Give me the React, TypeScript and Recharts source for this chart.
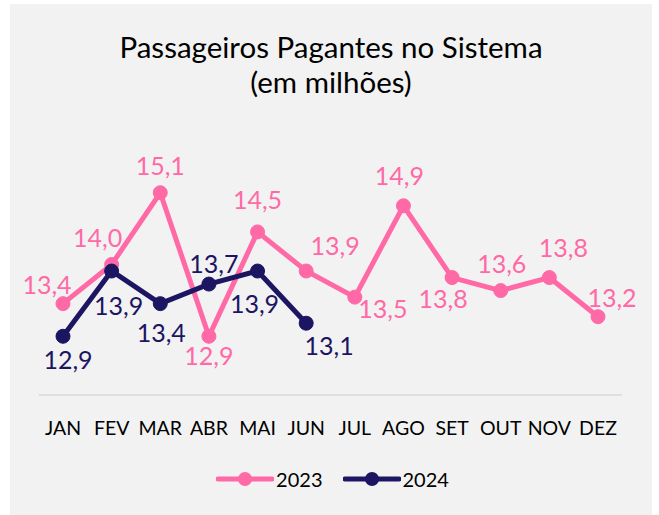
import React from 'react'
import { LineChart, Line, XAxis, YAxis, Legend, LabelList } from 'recharts'

const months = ['JAN', 'FEV', 'MAR', 'ABR', 'MAI', 'JUN', 'JUL', 'AGO', 'SET', 'OUT', 'NOV', 'DEZ']
const values2023 = [13.4, 14.0, 15.1, 12.9, 14.5, 13.9, 13.5, 14.9, 13.8, 13.6, 13.8, 13.2]
const values2024 = [12.9, 13.9, 13.4, 13.7, 13.9, 13.1]

// label offsets (dx, dy) from each point, the way Excel placed them
const offsets2023 = [
  [-16, -20], [-14, -28], [0, -28], [0, 19], [0, -33], [29, -26],
  [28, 11], [-4, -31], [-9, 20], [1, -28], [14, -31], [14, -20],
]
const offsets2024 = [[5, 23], [7, 34], [1, 28], [5, -21], [-3, 32], [23, 22]]

const PINK = '#ff69a6'
const NAVY = '#1c1562'
const FONT = 'Lato, sans-serif'

const data = months.map((m, i) => ({
  month: m,
  y2023: values2023[i],
  y2024: i < values2024.length ? values2024[i] : null,
}))

const fmt = (v: number) => v.toFixed(1).replace('.', ',')

function makeLabel(color: string, offsets: number[][]) {
  return (props: any) => {
    const { x, y, value, index } = props
    if (value == null) return null
    const [dx, dy] = offsets[index] || [0, -20]
    return (
      <text
        x={x + dx}
        y={y + dy}
        fill={color}
        fontSize={25}
        fontFamily={FONT}
        textAnchor="middle"
        dominantBaseline="central"
      >
        {fmt(value)}
      </text>
    )
  }
}

function LegendContent() {
  const items = [
    { name: '2023', color: PINK },
    { name: '2024', color: NAVY },
  ]
  return (
    <div style={{ display: 'flex', justifyContent: 'center', gap: 20, fontFamily: FONT, fontSize: 20, marginLeft: 4 }}>
      {items.map((it) => (
        <div key={it.name} style={{ display: 'flex', alignItems: 'center' }}>
          <svg width={58} height={20}>
            <line x1={2} y1={10} x2={56} y2={10} stroke={it.color} strokeWidth={5} strokeLinecap="round" />
            <circle cx={29} cy={10} r={7} fill={it.color} />
          </svg>
          <span style={{ color: '#000', marginLeft: 2 }}>{it.name}</span>
        </div>
      ))}
    </div>
  )
}

export default function App() {
  return (
    <div style={{ position: 'absolute', left: 0, top: 0, width: 659, height: 515, background: '#fff' }}>
      <div
        style={{
          position: 'absolute',
          left: 10,
          top: 4,
          width: 642,
          height: 511,
          background: '#f2f2f2',
        }}
      >
        <div
          style={{
            position: 'absolute',
            top: 25,
            left: 0,
            width: 642,
            textAlign: 'center',
            fontFamily: FONT,
            fontSize: 29.5,
            lineHeight: '35px',
            color: '#000',
          }}
        >
          Passageiros Pagantes no Sistema
          <br />
          (em milhões)
        </div>
        <LineChart
          width={642}
          height={511}
          data={data}
          margin={{ top: 130, right: 30, left: 29, bottom: 8 }}
        >
          <XAxis
            dataKey="month"
            axisLine={{ stroke: '#d9d9d9', strokeWidth: 1.5 }}
            tickLine={false}
            tick={{ fill: '#000', fontSize: 19.5, fontFamily: FONT }}
            tickMargin={20}
            height={72}
            interval={0}
            padding={{ left: 24, right: 24 }}
          />
          <YAxis hide domain={[12, 16]} />
          <Legend height={40} verticalAlign="bottom" content={<LegendContent />} />
          <Line
            dataKey="y2023"
            stroke={PINK}
            strokeWidth={5}
            dot={{ r: 7, fill: PINK, stroke: PINK, strokeWidth: 1 }}
            isAnimationActive={false}
          >
            <LabelList dataKey="y2023" content={makeLabel(PINK, offsets2023)} />
          </Line>
          <Line
            dataKey="y2024"
            stroke={NAVY}
            strokeWidth={5}
            dot={{ r: 7, fill: NAVY, stroke: NAVY, strokeWidth: 1 }}
            isAnimationActive={false}
          >
            <LabelList dataKey="y2024" content={makeLabel(NAVY, offsets2024)} />
          </Line>
        </LineChart>
      </div>
    </div>
  )
}
